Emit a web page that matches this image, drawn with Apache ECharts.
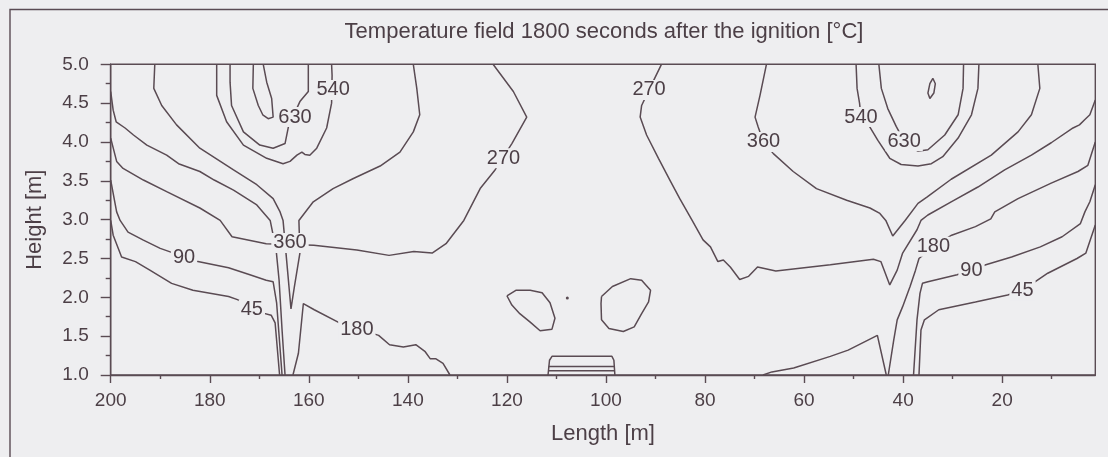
<!DOCTYPE html>
<html>
<head>
<meta charset="utf-8">
<script src="https://cdn.jsdelivr.net/npm/echarts@6/dist/echarts.min.js"></script>
<style>
html,body{margin:0;padding:0;background:#eeeef0;}
#chart{width:1108px;height:457px;}
</style>
</head>
<body>
<div id="chart"></div>
<script>
// ---- axis ticks ----
const xMajorTicks = [20, 40, 60, 80, 100, 120, 140, 160, 180, 200];
const xMinorTicks = [10, 30, 50, 70, 90, 110, 130, 150, 170, 190];

// ---- contour lines: [Length m, Height m] ----
const iso720Left = [[171.2,5.0],[171.3,4.69],[170.2,4.47],[169.3,4.35],[168.2,4.30],[167.2,4.32],[167.5,4.56],[168.5,4.77],[169.2,5.0]];
const iso630Left = [[175.9,5.0],[175.9,4.77],[175.6,4.47],[173.2,4.13],[169.9,3.96],[167.2,3.92],[164.8,3.98],[164.1,4.20],[161.8,4.52],[160.1,4.65],[160.1,5.0]];
const iso540Left = [[178.6,5.0],[178.6,4.60],[176.6,4.26],[173.2,3.96],[168.5,3.79],[165.2,3.72],[163.8,3.75],[162.4,3.83],[161.4,3.87],[160.8,3.84],[159.8,3.83],[158.4,3.92],[156.4,4.18],[155.4,4.50],[155.3,4.86],[155.4,5.0]];
const iso360Left = [[191.1,5.0],[191.3,4.69],[189.7,4.47],[186.7,4.22],[182.0,3.92],[175.2,3.64],[170.5,3.45],[167.2,3.27],[165.8,3.10],[165.2,2.99],[164.3,2.35],[163.6,1.85],[162.9,2.14],[161.8,2.57],[162.0,2.99],[159.1,3.23],[155.1,3.40],[151.0,3.53],[145.6,3.69],[141.6,3.87],[138.9,4.13],[137.6,4.35],[138.2,4.69],[138.9,5.0]];
const isoWallUpperLeft = [[200,4.65],[199.5,4.41],[198.9,4.26],[197.1,4.18],[195.4,4.09],[192.7,3.96],[188.7,3.83],[186.3,3.72],[182.0,3.62],[179.1,3.51],[175.2,3.38],[170.5,3.19],[167.8,2.99],[166.6,2.61],[166.0,2.22],[165.4,1.58],[164.8,1.0]];
const iso270Left = [[200,4.05],[198.8,3.75],[197.5,3.66],[193.4,3.51],[188.7,3.36],[182.0,3.15],[177.9,2.99],[175.5,2.78],[168.6,2.69],[159.0,2.67],[150.3,2.61],[143.8,2.54],[138.8,2.59],[135.1,2.57],[132.3,2.69],[128.7,2.99],[125.4,3.40],[122.4,3.64],[119.0,3.98],[116.0,4.32],[118.7,4.65],[122.8,5.0]];
const iso90Left = [[200,3.51],[198.8,3.10],[198.1,2.99],[196.5,2.84],[193.5,2.74],[190.0,2.63],[182.4,2.46],[176.2,2.38],[171.9,2.29],[168.6,2.22],[167.2,2.20],[166.5,1.93],[165.4,1.0]];
const iso45Left = [[200,2.99],[199.5,2.80],[197.8,2.52],[195.0,2.46],[192.1,2.35],[187.7,2.18],[183.4,2.09],[176.2,2.01],[174.4,1.97],[169.4,1.80],[167.6,1.77],[166.8,1.67],[165.9,1.0]];
const iso180Left = [[163.2,1.0],[162.1,1.28],[161.1,1.92],[158.9,1.84],[153.8,1.67],[145.9,1.51],[143.7,1.39],[140.9,1.36],[138.4,1.39],[136.5,1.30],[135.5,1.21],[134.4,1.21],[132.9,1.15],[131.5,1.0]];
const islandA = [[120.0,2.02],[118.2,2.09],[115.3,2.09],[112.9,2.06],[111.3,1.93],[110.3,1.73],[110.9,1.59],[113.3,1.57],[115.3,1.68],[117.4,1.79],[119.0,1.90],[120.0,2.02]];
const islandB = [[100.9,2.01],[98.7,2.14],[95.0,2.24],[92.8,2.22],[91.0,2.09],[91.4,1.94],[92.8,1.79],[94.3,1.62],[96.5,1.56],[99.4,1.60],[100.9,1.71],[101.0,1.92],[100.9,2.01]];
const islandDot = [[107.8,1.99]];
const floorBoxOuter = [[111.7,1.0],[111.4,1.19],[110.9,1.24],[98.8,1.24],[98.4,1.19],[98.2,1.0]];
const floorBoxMid = [[111.6,1.11],[98.3,1.11]];
const floorBoxLow = [[111.6,1.055],[98.3,1.055]];
const iso270Right = [[88.8,5.0],[91.3,4.67],[92.8,4.47],[93.1,4.32],[91.8,4.09],[89.4,3.79],[87.1,3.51],[85.1,3.27],[82.6,2.99],[80.4,2.74],[78.9,2.65],[77.4,2.46],[76.3,2.48],[74.9,2.39],[73.0,2.23],[71.2,2.27],[69.4,2.39],[65.7,2.34],[54.7,2.42],[46.0,2.49],[44.5,2.46],[42.7,2.16],[41.2,2.35],[40.1,2.57],[37.2,2.87],[36.4,2.99],[35.0,3.06],[30.3,3.23],[24.9,3.42],[19.5,3.64],[14.1,3.83],[10.1,3.99],[5.7,4.18],[4.4,4.22],[3.3,4.29],[2.3,4.35],[1.2,4.54]];
const iso360Right = [[67.6,5.0],[68.9,4.60],[69.9,4.32],[69.3,4.20],[68.2,4.00],[66.2,3.85],[62.2,3.62],[57.5,3.40],[51.4,3.25],[46.7,3.15],[44.7,3.08],[43.5,2.99],[42.1,2.79],[39.6,2.99],[37.0,3.21],[35.2,3.29],[30.3,3.52],[22.2,3.83],[16.8,4.13],[14.1,4.35],[12.4,4.69],[12.8,5.0]];
const iso540Right = [[49.5,5.0],[49.3,4.69],[48.8,4.50],[48.5,4.32],[46.8,4.20],[45.1,4.02],[42.7,3.79],[40.4,3.71],[37.0,3.69],[34.3,3.72],[32.0,3.81],[28.9,4.05],[26.2,4.35],[24.9,4.69],[24.7,5.0]];
const iso630Right = [[44.9,5.0],[44.4,4.69],[43.1,4.43],[41.4,4.20],[39.8,4.01],[37.0,3.88],[35.0,3.90],[31.6,4.09],[28.9,4.35],[27.9,4.69],[27.8,5.0]];
const iso720Right = [[34.0,4.82],[33.5,4.75],[33.8,4.63],[34.6,4.56],[35.0,4.63],[34.6,4.75],[34.0,4.82]];
const iso180Right = [[1.2,4.00],[2.7,3.70],[4.7,3.62],[10.1,3.47],[16.8,3.27],[21.5,3.10],[22.3,3.01],[25.4,2.91],[30.2,2.80],[33.9,2.65],[36.8,2.50],[37.5,2.35],[38.6,2.14],[40.1,1.88],[41.2,1.71],[41.9,1.45],[43.0,1.0]];
const iso90Right = [[1.2,3.45],[2.3,3.23],[3.3,3.10],[4.2,2.95],[7.9,2.78],[12.3,2.65],[18.1,2.52],[23.3,2.42],[29.1,2.29],[35.0,2.20],[36.1,2.18],[36.6,2.05],[37.2,1.71],[37.9,1.0]];
const iso45Right = [[1.2,2.93],[3.1,2.57],[4.9,2.50],[10.8,2.31],[15.9,2.09],[18.9,2.03],[25.4,1.94],[32.8,1.84],[35.7,1.71],[36.4,1.58],[36.8,1.0]];
const isoFloorHill = [[68.3,1.0],[66.5,1.04],[62.1,1.09],[54.7,1.24],[51.1,1.32],[45.2,1.51],[43.4,1.0]];

// ---- contour labels: [Length, Height, text] ----
const contourLabels = [
  [155.1,4.67,'540'], [162.8,4.32,'630'], [163.8,2.70,'360'], [185.2,2.51,'90'],
  [171.5,1.84,'45'], [150.3,1.58,'180'], [120.7,3.79,'270'], [91.3,4.67,'270'],
  [68.2,4.00,'360'], [48.5,4.32,'540'], [39.8,4.01,'630'], [33.9,2.65,'180'],
  [26.2,2.35,'90'], [15.9,2.09,'45']
];

const BG = '#eeeef0';
const INK = '#5a4b53';
const TEXT = '#4c3f46';
const FONT = '"Liberation Sans", Arial, Helvetica, sans-serif';

const allLines = [iso720Left, iso630Left, iso540Left, iso360Left, isoWallUpperLeft, iso270Left,
  iso90Left, iso45Left, iso180Left, islandA, islandB, floorBoxOuter, floorBoxMid, floorBoxLow,
  iso270Right, iso360Right, iso540Right, iso630Right, iso720Right, iso180Right, iso90Right,
  iso45Right, isoFloorHill];

const lineSeries = allLines.map(d => ({
  type: 'line', data: d, showSymbol: false, symbol: 'none', smooth: false,
  xAxisIndex: 0, yAxisIndex: 0, silent: true, z: 2,
  lineStyle: { color: INK, width: 1.5 }
}));

const chart = echarts.init(document.getElementById('chart'), null, { renderer: 'canvas' });
chart.setOption({
  backgroundColor: BG,
  animation: false,
  textStyle: { fontFamily: FONT },
  grid: { left: 110.7, top: 64.3, width: 984.6, height: 310.7, show: true,
          borderColor: INK, borderWidth: 1.4, backgroundColor: 'transparent' },
  xAxis: [
    { type: 'value', min: 1.2, max: 200, inverse: true, position: 'bottom',
      name: 'Length [m]', nameLocation: 'middle', nameGap: 48,
      nameTextStyle: { fontSize: 22, color: TEXT, fontFamily: FONT },
      axisLine: { show: true, lineStyle: { color: INK, width: 1.4 } },
      axisTick: { show: true, customValues: xMajorTicks, length: 8, lineStyle: { color: INK, width: 1.4 } },
      axisLabel: { show: true, customValues: xMajorTicks, fontSize: 19, color: TEXT, margin: 16, fontFamily: FONT },
      splitLine: { show: false } },
    { type: 'value', min: 1.2, max: 200, inverse: true, position: 'bottom', offset: 0,
      axisLine: { show: false },
      axisTick: { show: true, customValues: xMinorTicks, length: 4, lineStyle: { color: INK, width: 1.4 } },
      axisLabel: { show: false }, splitLine: { show: false } }
  ],
  yAxis: {
    type: 'value', min: 1, max: 5, interval: 0.5,
    name: 'Height [m]', nameLocation: 'middle', nameGap: 65, nameRotate: 90,
    nameTextStyle: { fontSize: 22, color: TEXT, fontFamily: FONT },
    axisLine: { show: true, lineStyle: { color: INK, width: 1.4 } },
    axisTick: { show: true, length: 10, lineStyle: { color: INK, width: 1.4 } },
    minorTick: { show: true, splitNumber: 2, length: 5, lineStyle: { color: INK, width: 1.4 } },
    axisLabel: { formatter: v => v.toFixed(1), fontSize: 19, color: TEXT, margin: 22, fontFamily: FONT },
    splitLine: { show: false }, minorSplitLine: { show: false }
  },
  graphic: [
    { type: 'rect', silent: true, z: 0,
      shape: { x: 10, y: 9.5, width: 1200, height: 600 },
      style: { fill: 'none', stroke: INK, lineWidth: 1.4 } },
    { type: 'text', silent: true, x: 604, y: 32,
      style: { text: 'Temperature field 1800 seconds after the ignition [°C]',
               fontSize: 22, fontFamily: FONT, fill: TEXT,
               align: 'center', verticalAlign: 'middle' } }
  ],
  series: lineSeries.concat([
    { type: 'scatter', data: islandDot, symbolSize: 3, silent: true, z: 3,
      itemStyle: { color: INK, opacity: 1 } },
    { type: 'scatter', data: contourLabels, symbolSize: 1, silent: true, z: 5,
      itemStyle: { color: 'rgba(0,0,0,0)', opacity: 1 },
      label: { show: true, position: 'inside', formatter: p => p.value[2],
               fontSize: 20, color: TEXT, fontFamily: FONT, opacity: 1,
               backgroundColor: BG, padding: [0, 2] } }
  ])
});
</script>
</body>
</html>
